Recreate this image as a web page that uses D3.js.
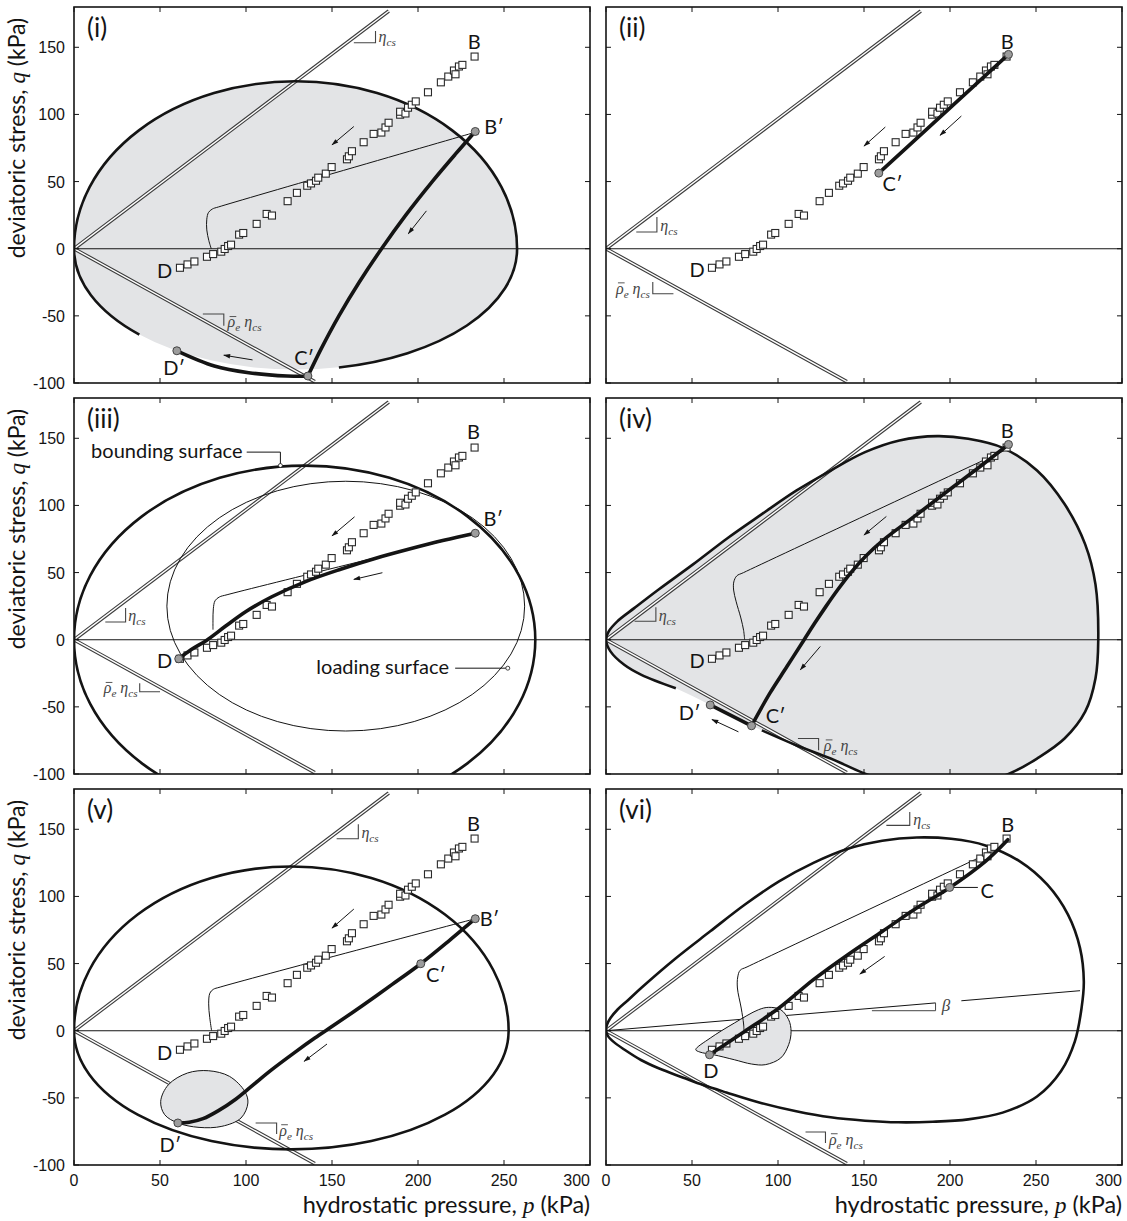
<!DOCTYPE html>
<html><head><meta charset="utf-8">
<script src="https://cdn.jsdelivr.net/npm/d3@7"></script>
<style>body{margin:0;background:#fff}svg{display:block}</style>
</head><body><svg id="chart" width="1127" height="1221"></svg>
<script>
// ---------------- data ----------------
const pTicks = [0, 50, 100, 150, 200, 250, 300];
const qTicks = [-100, -50, 0, 50, 100, 150];
const panelNames = ["(i)", "(ii)", "(iii)", "(iv)", "(v)", "(vi)"];

// experimental points (p, q) in kPa
const expP = [61.6,66,70,77.3,80.9,85.6,87.6,89.6,91.3,96,98.4,106.2,112,115.1,124.2,129.6,135.6,137.8,140.7,142,146.4,149.8,158.7,159.8,161.6,168.4,174.2,178.7,181.1,182.9,189.6,189.6,192.7,194.2,196.4,198.7,205.8,213.3,217.6,220.9,221.8,223.8,225.8,232.9];
const expQ = [-14.2,-11.7,-9.5,-6,-4,-2.2,-0.2,2,3,10.5,11.7,18.5,25.9,24.7,35.4,41.6,46.9,48.6,50.6,52.9,55.9,60.8,66.6,68.8,72.6,79.3,85.5,86.5,90.3,93.8,99.8,102,100.7,105,107.2,109.7,116.5,123.9,128.2,132.7,129.9,135.7,136.9,143.1];

// critical state lines (end points)
const cslUpper = [[0,0],[183,177]];
const cslLower = [[0,0],[140,-99]];

// elliptical surfaces: [apex p0, top q, bottom q]
const ellipseI = [257.6, 124.7, -90];
const ellipseIGap = [[38,-63.9],[154,-88.4]];
const ellipseIII = [268.2, 129.7, -130];
const ellipseV = [252.7, 122.3, -88.4];
// loading surface (iii): centre p, centre q, semi-axis p, semi-axis q
const loadingIII = [158, 25, 104, 93];

// teardrop bounding surfaces
const teardropIV = [[40.6,-36.2],[20.6,-26.2],[10.6,-18.7],[2.6,-8.7],[0,0],[1.6,6.2],[6.6,13.7],[16.6,23.7],[30.6,37.4],[50.6,56.1],[70.6,75.6],[90.6,93.5],[110.6,111],[130.6,126],[150.6,139.7],[170.6,148.4],[192.6,151.6],[210.6,149.6],[230.6,142.9],[250.6,126],[266.6,101],[278.6,71],[284.6,41],[286.2,0],[284.6,-28.7],[278.6,-53.6],[266.6,-73.6],[250.6,-88.5],[236.6,-98.5],[215,-108],[190,-110],[165,-106],[150.6,-99.8],[130.6,-88.5],[110.6,-78.6],[90.6,-67.5],[84.6,-64.1],[60.6,-48.6]];
const teardropIVOutlineCount = 36;
const teardropVI = [[0,0],[0.6,4.5],[2.6,9.4],[6.6,15.6],[12.6,22.5],[20.6,32],[40.6,54],[60.6,74],[80.6,93.8],[100.6,111.2],[120.6,125],[140.6,135.5],[160.6,141.5],[180.6,143.9],[200.6,142.9],[220.6,138],[240.6,126.1],[256.6,108.7],[268.6,86.4],[275.6,61.5],[277.8,36.7],[276.5,17],[272.6,-7.9],[264.6,-30],[250.6,-49],[230.6,-61],[210.6,-66],[190,-67.8],[170,-68.2],[150.6,-67],[130.6,-64.5],[110.6,-60],[90.6,-54],[70,-46],[56.6,-40.5],[45,-35],[30.6,-28],[20.6,-22],[10.6,-14],[4.6,-8.5],[1.2,-4]];

// small loading surfaces
const loadingV = [[50.4,-52.6],[54.9,-40.2],[66,-31.5],[78.2,-29.8],[90.4,-34],[99.3,-45.2],[101.1,-53.8],[97.1,-65],[86,-71.2],[72.7,-72],[60.4,-68.7],[52.7,-62.5]];
const loadingVI = [[52.2,-14.1],[60.6,-5.5],[74.6,5.7],[88.6,15.6],[94.6,17.4],[101.6,15.6],[106.2,8.2],[107.6,-0.5],[106.2,-10.4],[101.6,-20.3],[92.6,-25.3],[84.6,-24.8],[74.6,-21.6],[62.6,-17.9],[54.6,-15.9]];

// thin model paths
const thinI = [[232.7,86.5],[84,31.1],[80.5,29.6],[78.2,27],[77.2,22],[77.2,14],[78.4,6],[79.8,0]];
const thinIII = [[233.3,79.3],[89,33.5],[84.5,31.8],[82,29],[81,23],[80.8,14],[80.8,7.5]];
const thinIV = [[231.6,140.9],[80,50],[76,47.5],[74.3,43],[74.2,37],[75.6,28.7],[78.4,16.2],[80,7],[80.6,0]];
const thinV = [[233.3,83.4],[85,32.5],[81,30.8],[79,28],[78.3,20],[78.9,10],[80,0]];
const thinVI = [[226.6,134.7],[82,47.5],[78,45],[76.6,40],[76.4,31.8],[78.6,16.9],[80,5],[80.2,0]];

// thick stress paths
const thickI = [[136,-94.8],[143.6,-74.8],[154.1,-49.8],[165.9,-24.8],[178.9,0.2],[193,25.2],[208.4,50.2],[221.6,70.2],[233.3,87.3]];
const thickIDC = [[59.8,-76],[81.6,-87.3],[101.6,-92.3],[123.8,-94.8],[136,-95]];
const thickII = [[234,144.7],[158.6,56.3]];
const thickIII = [[233.3,79.3],[215,74],[195,67.5],[175,60.5],[155,52.5],[135,43.5],[115,32],[100,21],[88,10],[77,-0.5],[68,-7.5],[60.9,-14.2]];
const thickIV = [[234,145.4],[216,127.5],[197.9,110],[179.5,92],[161,74],[150.8,62],[142.4,50],[134.6,37],[128,25],[121.2,12],[115.2,0],[105.2,-20],[95.2,-40],[84.6,-64.1]];
const thickIVDC = [[60.6,-48.6],[72.6,-56.4],[84.6,-64.1]];
const thickV = [[233.3,83.4],[217.5,66.4],[201.6,49.9],[185,34.5],[168,19],[151,4],[140,-5.5],[128,-16.5],[115,-29],[104,-40.5],[94,-51],[84,-59.5],[75,-65.5],[67,-68.2],[60.4,-68.7]];
const thickVI = [[60.2,-17.9],[80.6,-0.5],[100.6,16.9],[120.6,38],[140.6,56.6],[160.6,73.9],[180.6,91.3],[199.8,106.5],[220.6,126.1],[233.6,142.2]];

// arrows [p1,q1,p2,q2]
const arrowsI = [[162.7,91,150,77.3],[204.9,28.2,194.4,11.2],[103.8,-82.8,87.1,-79.3]];
const arrowsII = [[162.4,90.6,150,76.4],[206.6,98.8,194.2,84.4]];
const arrowsIII = [[163.1,91.5,150,77.3],[179.3,49.9,162.7,44.9]];
const arrowsIV = [[163,91.8,150,78],[124.6,-5,113,-22.4],[77,-68.6,61.6,-59.4]];
const arrowsV = [[162.7,90.6,150,76.4],[147.1,-9.9,133.8,-22.8]];
const arrowsVI = [[162,55.3,147.6,42.2]];

// state markers
const circlesI = [[233.3,87.3],[136,-94.8],[59.8,-76]];
const circlesII = [[234,144.7],[158.6,56.3]];
const circlesIII = [[233.3,79.3],[60.9,-14.2]];
const circlesIV = [[234,145.4],[84.6,-64.1],[60.6,-48.6]];
const circlesV = [[233.3,83.4],[201.6,49.9],[60.4,-68.7]];
const circlesVI = [[199.8,106.7],[60.2,-17.9]];

// point labels
const labelsI = [["B",232.7,153.9],["B′",244.2,90.5],["D",52.7,-16.7],["D′",58.2,-89],["C′",133.8,-81.5]];
const labelsII = [["B",233.2,153.8],["C′",166.6,48.4],["D",53,-16.1]];
const labelsIII = [["B",232.2,154.6],["B′",243.8,89.8],["D",52.7,-16.2]];
const labelsIV = [["B",233.2,155.6],["D",53,-16.2],["D′",48.6,-54.9],["C′",98.6,-56.9]];
const labelsV = [["B",232.2,153.8],["B′",241.6,83.4],["C′",210.4,41.7],["D",52.7,-16.6],["D′",56,-84.9]];
const labelsVI = [["B",233.6,153.3],["C",221.6,104.2],["D",61,-30.3]];

// slope markers: [pa, pb, q horizontal, q vertical end, vertical at right(1)/left(0), text p, text q, anchor]
const markUp = [[162.7,175.3,153.4,162.1,1,177.1,157.4,"start"],[17.6,29.6,12.4,23.6,1,31.6,16.6,"start"],[18.2,30,13.2,23.7,1,31.6,17.5,"start"],[16.6,29,13.7,24.2,1,30.6,18,"start"],[152.7,165.3,142.9,153.8,1,167.1,147.1,"start"],[163,176.6,152.9,162.8,1,178.6,157,"start"]];
const markLow = [[74.9,87.1,-48.6,-57.4,1,89.3,-54.9,"start"],[27.2,39.2,-33.5,-24.8,0,25.5,-29.8,"end"],[38.2,50,-38.7,-32.4,0,37,-36.2,"end"],[111.6,123.6,-73.6,-82.3,1,126.6,-79,"start"],[105.6,117.8,-68.7,-76.9,1,119.3,-74.4,"start"],[116,127.6,-75.4,-83.6,1,129.6,-81.1,"start"]];

// beta line (vi)
const betaLineA = [[0,0],[191.6,20.7]];
const betaLineB = [[206.6,22.3],[275.6,29.8]];
const betaMark = [154.6,191.6,14.9,20.7,197.6,18.1];

// ---------------- layout ----------------
const W = 516, H = 376;
const origins = [[74,7],[606,7],[74,398],[606,398],[74,789],[606,789]];
const x = d3.scaleLinear().domain([0,300]).range([0,W]);
const y = d3.scaleLinear().domain([-100,180]).range([H,0]);

const GRAY = "#e3e4e6", INK = "#141414";
const SANS = "Lato, 'Open Sans', 'Liberation Sans', sans-serif";
const NUM = "'Liberation Sans', Arial, sans-serif";
const SERIF = "'Liberation Serif', 'DejaVu Serif', serif";

const svg = d3.select("#chart");
const defs = svg.append("defs");
defs.append("clipPath").attr("id","clip").append("rect").attr("width",W).attr("height",H);
defs.append("marker").attr("id","arr").attr("viewBox","0 -5 10 10").attr("refX",9).attr("refY",0)
  .attr("markerWidth",8).attr("markerHeight",7).attr("markerUnits","userSpaceOnUse").attr("orient","auto")
  .append("path").attr("d","M0,-3.2L10,0L0,3.2Z").attr("fill",INK);

const straight = d3.line().x(d=>x(d[0])).y(d=>y(d[1]));
const smooth = d3.line().x(d=>x(d[0])).y(d=>y(d[1])).curve(d3.curveCatmullRom.alpha(0.5));
const loop = d3.line().x(d=>x(d[0])).y(d=>y(d[1])).curve(d3.curveCatmullRomClosed.alpha(0.5));

function ellipseD(e){
  const [p0,qt,qb]=e, rx=(x(p0)-x(0))/2, rt=y(0)-y(qt), rb=y(qb)-y(0);
  return `M${x(0)},${y(0)}A${rx},${rt} 0 0 1 ${x(p0)},${y(0)}A${rx},${rb} 0 0 1 ${x(0)},${y(0)}Z`;
}
function ellipseGapD(e,gap){
  const [p0,qt,qb]=e, rx=(x(p0)-x(0))/2, rt=y(0)-y(qt), rb=y(qb)-y(0);
  const [a,b]=gap;
  return `M${x(0)},${y(0)}A${rx},${rt} 0 0 1 ${x(p0)},${y(0)}A${rx},${rb} 0 0 1 ${x(b[0])},${y(b[1])}`+
         `M${x(a[0])},${y(a[1])}A${rx},${rb} 0 0 1 ${x(0)},${y(0)}`;
}
function mathText(g, px, py, parts, anchor, size){
  const t = g.append("text").attr("x",px).attr("y",py).attr("text-anchor",anchor)
    .attr("font-family",SERIF).attr("font-style","italic").attr("font-size",size).attr("fill","#444");
  let prevSub=false, idx=0; const bars=[];
  parts.forEach(([s,sub,bar])=>{
    const ts=t.append("tspan").text(s).attr("font-size", sub? size*0.7 : size);
    if(sub && !prevSub) ts.attr("dy",size*0.25);
    if(!sub && prevSub) ts.attr("dy",-size*0.25);
    if(bar) bars.push(idx);
    idx += s.length;
    prevSub=sub;
  });
  bars.forEach(k=>{
    const ext = t.node().getExtentOfChar(k);
    g.append("line").attr("x1",ext.x+2).attr("x2",ext.x+ext.width+1)
      .attr("y1",py-size*0.68).attr("y2",py-size*0.68).attr("stroke","#444").attr("stroke-width",0.9);
  });
  return t;
}
const etaParts = [["η",false],["cs",true]];
const rhoParts = [["ρ",false,true],["e",true],[" η",false],["cs",true]];

const cfg = [
  {fillE:ellipseI, outlineGap:[ellipseI,ellipseIGap], thin:thinI, thick:[thickI,thickIDC], circles:circlesI, arrows:arrowsI, labels:labelsI},
  {thick:[thickII], circles:circlesII, arrows:arrowsII, labels:labelsII},
  {outlineE:ellipseIII, loadE:loadingIII, thin:thinIII, thick:[thickIII], circles:circlesIII, arrows:arrowsIII, labels:labelsIII},
  {fillLoop:teardropIV, outlineOpen:teardropIV.slice(0,teardropIVOutlineCount), thin:thinIV, thick:[thickIV,thickIVDC], circles:circlesIV, arrows:arrowsIV, labels:labelsIV},
  {outlineE:ellipseV, smallLoop:loadingV, thin:thinV, thick:[thickV], circles:circlesV, arrows:arrowsV, labels:labelsV},
  {outlineLoop:teardropVI, smallLoop:loadingVI, thin:thinVI, thick:[thickVI], circles:circlesVI, arrows:arrowsVI, labels:labelsVI, beta:true}
];

cfg.forEach((c,i)=>{
  const [ox,oy]=origins[i];
  const g = svg.append("g").attr("transform",`translate(${ox},${oy})`);
  const p = g.append("g").attr("clip-path","url(#clip)");

  if(c.fillE) p.append("path").attr("d",ellipseD(c.fillE)).attr("fill",GRAY);
  if(c.fillLoop) p.append("path").attr("d",loop(c.fillLoop)).attr("fill",GRAY);

  [cslUpper,cslLower].forEach(l=>{
    p.append("path").attr("d",straight(l)).attr("stroke","#3a3a3a").attr("stroke-width",3.6).attr("fill","none");
    p.append("path").attr("d",straight(l)).attr("stroke","#fff").attr("stroke-width",1.4).attr("fill","none");
  });
  p.append("line").attr("x1",0).attr("x2",W).attr("y1",y(0)).attr("y2",y(0)).attr("stroke",INK).attr("stroke-width",1.1);

  if(c.beta){
    [betaLineA,betaLineB].forEach(l=>p.append("path").attr("d",straight(l)).attr("stroke",INK).attr("stroke-width",1).attr("fill","none"));
    const [a,b,qh,qv,tp,tq]=betaMark;
    p.append("path").attr("d",`M${x(a)},${y(qh)}H${x(b)}V${y(qv)}`).attr("stroke","#444").attr("stroke-width",1).attr("fill","none");
    mathText(p, x(tp), y(tq)+5, [["β",false]], "middle", 17);
  }

  if(c.smallLoop) p.append("path").attr("d",loop(c.smallLoop)).attr("fill",GRAY).attr("stroke",INK).attr("stroke-width",1);

  const ol = sel=>sel.attr("fill","none").attr("stroke",INK).attr("stroke-width",2.6);
  if(c.outlineGap) ol(p.append("path").attr("d",ellipseGapD(c.outlineGap[0],c.outlineGap[1])));
  if(c.outlineE) ol(p.append("path").attr("d",ellipseD(c.outlineE)));
  if(c.outlineOpen) ol(p.append("path").attr("d",smooth(c.outlineOpen)));
  if(c.outlineLoop) ol(p.append("path").attr("d",loop(c.outlineLoop)));
  if(c.loadE){
    const [cp,cq,ap,aq]=c.loadE;
    p.append("ellipse").attr("cx",x(cp)).attr("cy",y(cq)).attr("rx",x(ap)-x(0)).attr("ry",y(0)-y(aq))
      .attr("fill","none").attr("stroke",INK).attr("stroke-width",1);
  }

  if(c.thin) p.append("path").attr("d",smooth(c.thin)).attr("fill","none").attr("stroke",INK).attr("stroke-width",1);

  p.selectAll("rect.sq").data(expP.map((v,k)=>[v,expQ[k]])).join("rect").attr("class","sq")
    .attr("x",d=>x(d[0])-3.5).attr("y",d=>y(d[1])-3.5).attr("width",7).attr("height",7)
    .attr("fill","#fff").attr("stroke","#2a2a2a").attr("stroke-width",1.1);

  c.thick.forEach(t=>p.append("path").attr("d",smooth(t)).attr("fill","none").attr("stroke",INK)
    .attr("stroke-width",3.6).attr("stroke-linecap","round"));

  if(c.beta){
    p.append("line").attr("x1",x(200.6)).attr("x2",x(216.2)).attr("y1",y(106.7)).attr("y2",y(106.7)).attr("stroke",INK).attr("stroke-width",1);
  }

  p.selectAll("circle.st").data(c.circles).join("circle").attr("class","st")
    .attr("cx",d=>x(d[0])).attr("cy",d=>y(d[1])).attr("r",4).attr("fill","#9c9c9c").attr("stroke","#444").attr("stroke-width",1);

  c.arrows.forEach(a=>p.append("line").attr("x1",x(a[0])).attr("y1",y(a[1])).attr("x2",x(a[2])).attr("y2",y(a[3]))
    .attr("stroke",INK).attr("stroke-width",1).attr("marker-end","url(#arr)"));

  c.labels.forEach(l=>p.append("text").attr("x",x(l[1])).attr("y",y(l[2])+7).attr("text-anchor","middle")
    .attr("font-family",SANS).attr("font-size",20).attr("fill",INK).text(l[0]));

  [[markUp[i],etaParts],[markLow[i],rhoParts]].forEach(([m,parts])=>{
    const [a,b,qh,qv,right,tp,tq,anc]=m;
    const d = right ? `M${x(a)},${y(qh)}H${x(b)}V${y(qv)}` : `M${x(a)},${y(qv)}V${y(qh)}H${x(b)}`;
    p.append("path").attr("d",d).attr("stroke","#444").attr("stroke-width",1.1).attr("fill","none");
    mathText(p, x(tp), y(tq)+5, parts, anc, 16);
  });

  if(i===2){
    p.append("text").attr("x",x(98)).attr("y",y(139.7)+6).attr("text-anchor","end").attr("font-family",SANS).attr("font-size",20).attr("fill",INK).text("bounding surface");
    p.append("path").attr("d",`M${x(100.4)},${y(139.7)}H${x(120)}V${y(129.7)}`).attr("stroke",INK).attr("stroke-width",1).attr("fill","none");
    p.append("circle").attr("cx",x(120)).attr("cy",y(129.7)).attr("r",2).attr("fill","#fff").attr("stroke",INK).attr("stroke-width",0.8);
    p.append("text").attr("x",x(218)).attr("y",y(-21.2)+6).attr("text-anchor","end").attr("font-family",SANS).attr("font-size",20).attr("fill",INK).text("loading surface");
    p.append("path").attr("d",`M${x(221.6)},${y(-21.2)}H${x(252.2)}`).attr("stroke",INK).attr("stroke-width",1).attr("fill","none");
    p.append("circle").attr("cx",x(252.2)).attr("cy",y(-21.2)).attr("r",2).attr("fill","#fff").attr("stroke",INK).attr("stroke-width",0.8);
  }

  g.append("rect").attr("width",W).attr("height",H).attr("fill","none").attr("stroke",INK).attr("stroke-width",1.6);
  pTicks.forEach(t=>{
    g.append("line").attr("x1",x(t)).attr("x2",x(t)).attr("y1",H).attr("y2",H-5).attr("stroke",INK);
    g.append("line").attr("x1",x(t)).attr("x2",x(t)).attr("y1",0).attr("y2",5).attr("stroke",INK);
  });
  qTicks.forEach(t=>{
    g.append("line").attr("x1",0).attr("x2",5).attr("y1",y(t)).attr("y2",y(t)).attr("stroke",INK);
    g.append("line").attr("x1",W).attr("x2",W-5).attr("y1",y(t)).attr("y2",y(t)).attr("stroke",INK);
  });
  if(i%2===0){
    qTicks.forEach(t=>g.append("text").attr("x",-9).attr("y",y(t)+6).attr("text-anchor","end")
      .attr("font-family",NUM).attr("font-size",16).attr("fill",INK).text(t));
    const yt = g.append("text").attr("transform",`translate(${25-ox},131) rotate(-90)`).attr("text-anchor","middle")
      .attr("font-family",SANS).attr("font-size",23).attr("fill",INK);
    yt.append("tspan").text("deviatoric stress, ");
    yt.append("tspan").text("q").attr("font-family",SERIF).attr("font-style","italic");
    yt.append("tspan").text(" (kPa)");
  }
  if(i>=4){
    pTicks.forEach(t=>g.append("text").attr("x",x(t)).attr("y",H+21).attr("text-anchor",t===300?"end":"middle")
      .attr("font-family",NUM).attr("font-size",16).attr("fill",INK).text(t));
    const xt = g.append("text").attr("x",W).attr("y",H+48).attr("text-anchor","end")
      .attr("font-family",SANS).attr("font-size",23.5).attr("fill",INK);
    xt.append("tspan").text("hydrostatic pressure, ");
    xt.append("tspan").text("p").attr("font-family",SERIF).attr("font-style","italic");
    xt.append("tspan").text(" (kPa)");
  }
  g.append("text").attr("x",13).attr("y",30).attr("font-family",SANS).attr("font-size",26).attr("fill",INK).text(panelNames[i]);
});
</script></body></html>
